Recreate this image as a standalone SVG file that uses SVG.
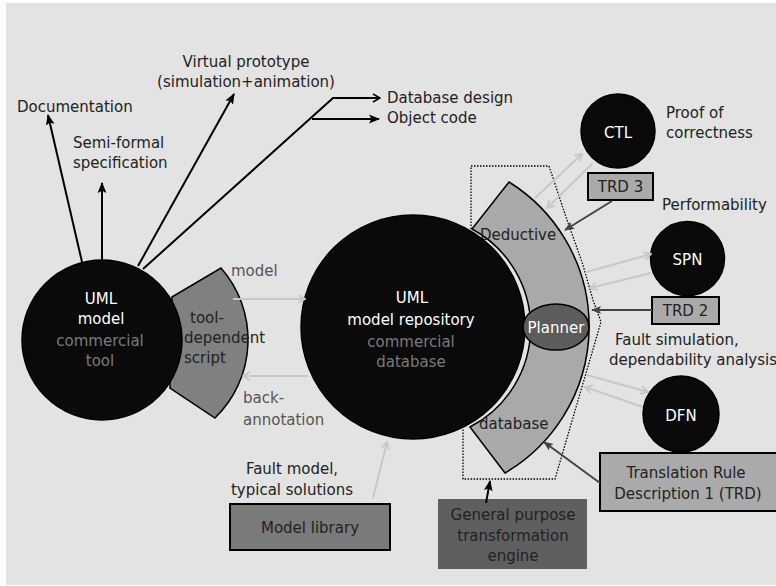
<svg xmlns="http://www.w3.org/2000/svg" width="776" height="586" viewBox="0 0 776 586">
  <defs>
    <style>
      text { font-family: "DejaVu Sans", Verdana, sans-serif; font-size: 15px; fill: #222; }
      .c { text-anchor: middle; }
      .w { fill: #fff; }
      .g { fill: #7a7a7a; }
      .lbl2 { fill: #555; }
      .disk { fill: #0a0a0a; stroke: #000; stroke-width: 1.5; }
      .blk { stroke: #000; stroke-width: 2; fill: none; }
      .lite { stroke: #c8c8c8; stroke-width: 2; fill: none; }
      .dark { stroke: #444; stroke-width: 2; fill: none; }
    </style>
    <marker id="ab" viewBox="0 0 10 10" refX="9" refY="5" markerWidth="11" markerHeight="11" orient="auto" markerUnits="userSpaceOnUse">
      <path d="M0,1 L10,5 L0,9 L2,5 z" fill="#000"/>
    </marker>
    <marker id="ao" viewBox="0 0 10 10" refX="9" refY="5" markerWidth="10" markerHeight="10" orient="auto" markerUnits="userSpaceOnUse">
      <path d="M2,1 L9,5 L2,9" fill="none" stroke="#000" stroke-width="1.5"/>
    </marker>
    <marker id="al" viewBox="0 0 10 10" refX="9" refY="5" markerWidth="10" markerHeight="10" orient="auto" markerUnits="userSpaceOnUse">
      <path d="M2,1 L9,5 L2,9" fill="none" stroke="#c8c8c8" stroke-width="1.8"/>
    </marker>
    <marker id="ad" viewBox="0 0 10 10" refX="9" refY="5" markerWidth="10" markerHeight="10" orient="auto" markerUnits="userSpaceOnUse">
      <path d="M0,1 L10,5 L0,9 L2,5 z" fill="#444"/>
    </marker>
  </defs>

  <!-- canvas -->
  <rect x="0" y="0" width="776" height="586" fill="#fff"/>
  <rect x="6" y="3" width="770" height="582" fill="#e3e3e3"/>

  <!-- free labels -->
  <g id="labels">
    <text x="17" y="112">Documentation</text>
    <text x="73" y="148">Semi-formal</text>
    <text x="73" y="168">specification</text>
    <text class="c" x="246" y="67">Virtual prototype</text>
    <text class="c" x="246" y="87">(simulation+animation)</text>
    <text x="387" y="103">Database design</text>
    <text x="387" y="123">Object code</text>
    <text x="666" y="118">Proof of</text>
    <text x="666" y="138">correctness</text>
    <text x="662" y="210">Performability</text>
    <text x="615" y="345">Fault simulation,</text>
    <text x="609" y="365" font-size="13">dependability analysis</text>
    <text class="lbl2" x="231" y="276">model</text>
    <text class="lbl2" x="243" y="403">back-</text>
    <text class="lbl2" x="243" y="425">annotation</text>
    <text class="c" x="292" y="474" fill="#444">Fault model,</text>
    <text class="c" x="292" y="495" fill="#444">typical solutions</text>
  </g>

  <!-- UML modelling tool with its export script -->
  <g id="tool-script">
    <path d="M172,297 L221,268 A109,109 0 0 1 215,418 L170,388 Z" fill="#808080" stroke="#000" stroke-width="1.5"/>
    <text x="190" y="323">tool-</text>
    <text x="184" y="343">dependent</text>
    <text x="184" y="363">script</text>
  </g>
  <g id="uml-tool">
    <circle class="disk" cx="102" cy="340" r="80"/>
    <text class="c w" x="101" y="304">UML</text>
    <text class="c w" x="101" y="324">model</text>
    <text class="c g" x="100" y="346">commercial</text>
    <text class="c g" x="100" y="366">tool</text>
  </g>

  <!-- transformation engine: deductive database ring -->
  <g id="deductive-db">
    <path d="M472,229 L509,182 A170,170 0 0 1 505,473 L470,427 A112,112 0 0 0 472,229 Z" fill="#a9a9a9" stroke="#000" stroke-width="1.5"/>
    <text x="480" y="240" font-size="14.5">Deductive</text>
    <text x="479" y="429" font-size="14.5">database</text>
  </g>
  <g id="repository">
    <circle class="disk" cx="413" cy="327" r="112"/>
    <text class="c w" x="412" y="303" font-size="17">UML</text>
    <text class="c w" x="411" y="325" font-size="17">model repository</text>
    <text class="c g" x="411" y="347">commercial</text>
    <text class="c g" x="411" y="367">database</text>
  </g>
  <g id="planner">
    <ellipse cx="556" cy="327" rx="33" ry="23" fill="#5c5c5c" stroke="#000" stroke-width="1.5"/>
    <text class="c w" x="556" y="333" font-size="16">Planner</text>
  </g>
  <g id="engine-boundary">
    <path d="M471,229 L471,166 L549,166 L566,217 L583,265 L593,300 L601,322 L555,479 L463,479 L463,428" fill="none" stroke="#000" stroke-width="1.3" stroke-dasharray="1.5 1.5"/>
  </g>

  <!-- target formalisms -->
  <g id="ctl">
    <circle class="disk" cx="618" cy="131" r="37"/>
    <text class="c w" x="618" y="138" font-size="19">CTL</text>
  </g>
  <g id="trd3">
    <rect x="588" y="173" width="65" height="27" fill="#aaa" stroke="#000" stroke-width="2"/>
    <text class="c" x="620.5" y="192">TRD 3</text>
  </g>
  <g id="spn">
    <circle class="disk" cx="687.5" cy="258.5" r="37"/>
    <text class="c w" x="687.5" y="265" font-size="18">SPN</text>
  </g>
  <g id="trd2">
    <rect x="652" y="297" width="67" height="27" fill="#aaa" stroke="#000" stroke-width="2"/>
    <text class="c" x="685.5" y="316">TRD 2</text>
  </g>
  <g id="dfn">
    <circle class="disk" cx="681" cy="414" r="38"/>
    <text class="c w" x="681" y="421" font-size="18">DFN</text>
  </g>
  <g id="trd1">
    <rect x="600" y="453" width="180" height="58" fill="#aaa" stroke="#000" stroke-width="2"/>
    <text class="c" x="686" y="478">Translation Rule</text>
    <text class="c" x="688" y="499">Description 1 (TRD)</text>
  </g>

  <!-- bottom boxes -->
  <g id="general-engine">
    <rect x="438" y="499" width="149" height="70" fill="#5f5f5f"/>
    <text class="c" x="513" y="520">General purpose</text>
    <text class="c" x="513" y="541">transformation</text>
    <text class="c" x="513" y="561">engine</text>
  </g>
  <g id="model-library">
    <rect x="230" y="504" width="160" height="46" fill="#7a7a7a" stroke="#000" stroke-width="2"/>
    <text class="c" x="310" y="533">Model library</text>
  </g>

  <!-- connectors -->
  <g id="connectors">
    <line class="blk" x1="82" y1="262" x2="48" y2="115" marker-end="url(#ab)"/>
    <line class="blk" x1="102" y1="260" x2="102" y2="183" marker-end="url(#ab)"/>
    <line class="blk" x1="138" y1="266" x2="234" y2="94" marker-end="url(#ab)"/>
    <polyline class="blk" stroke-width="1.5" points="143,269 333,98 380,98" marker-end="url(#ao)"/>
    <line class="blk" stroke-width="3" x1="312" y1="119" x2="379" y2="119" marker-end="url(#ab)"/>

    <line class="lite" x1="233" y1="299" x2="305" y2="299" marker-end="url(#al)"/>
    <line class="lite" x1="308" y1="376" x2="243" y2="376" marker-end="url(#al)"/>
    <line class="lite" x1="373" y1="498" x2="387" y2="442" marker-end="url(#al)"/>

    <line class="lite" x1="535" y1="198" x2="582" y2="154" marker-end="url(#al)"/>
    <line class="lite" x1="592" y1="164" x2="547" y2="208" marker-end="url(#al)"/>
    <line class="lite" x1="587" y1="272" x2="651" y2="254" marker-end="url(#al)"/>
    <line class="lite" x1="651" y1="273" x2="590" y2="288" marker-end="url(#al)"/>
    <line class="lite" x1="587" y1="375" x2="648" y2="392" marker-end="url(#al)"/>
    <line class="lite" x1="643" y1="407" x2="585" y2="387" marker-end="url(#al)"/>

    <line class="dark" x1="612" y1="201" x2="565" y2="230" marker-end="url(#ad)"/>
    <line class="dark" x1="652" y1="310" x2="592" y2="310" marker-end="url(#ad)"/>
    <line class="dark" x1="600" y1="483" x2="544" y2="442" marker-end="url(#ad)"/>
    <line class="blk" x1="486" y1="503" x2="490" y2="481" marker-end="url(#ab)"/>
  </g>
</svg>
